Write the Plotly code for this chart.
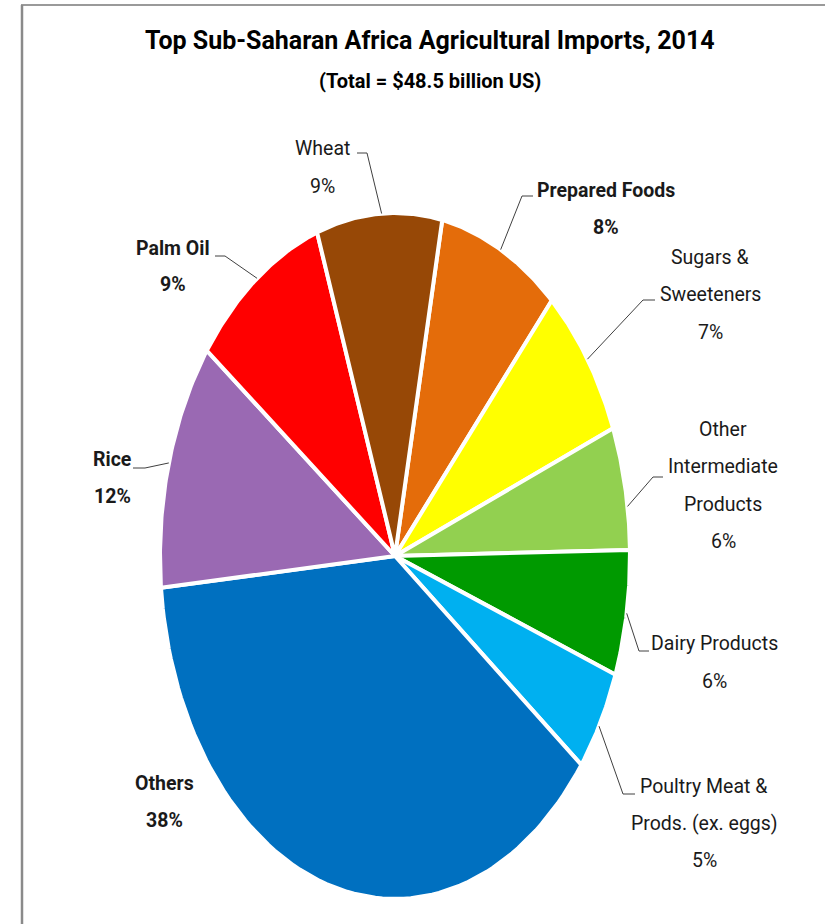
import numpy as np
import plotly.graph_objects as go

# ---- data (clockwise from the top) ----
categories = ["Prepared Foods", "Sugars & Sweeteners", "Other Intermediate Products",
              "Dairy Products", "Poultry Meat & Prods. (ex. eggs)", "Others",
              "Rice", "Palm Oil", "Wheat"]
shares = [8.4, 7.3, 5.8, 5.9, 4.8, 38.1, 11.7, 9.4, 8.6]
colors = ["#E46C0A", "#FFFF00", "#92D050", "#009A00", "#00B0F0", "#0070C0",
          "#9A69B3", "#FF0000", "#974806"]
label_lines = [["Prepared Foods"], ["Sugars &", "Sweeteners"], ["Other", "Intermediate", "Products"],
               ["Dairy Products"], ["Poultry Meat &", "Prods. (ex. eggs)"], ["Others"],
               ["Rice"], ["Palm Oil"], ["Wheat"]]
bold = [True, False, False, False, False, True, True, True, False]

# ---- layout (pixel space) ----
W, H = 825, 924
cx, cy, rx, ry = 395, 556, 235, 343
start_deg = 11.6
label_pos = {  # center of first text line, line spacing
    "Prepared Foods": (606, 190, 37),
    "Sugars & Sweeteners": (710, 257, 37.5),
    "Other Intermediate Products": (723, 429, 37.5),
    "Dairy Products": (714, 643, 38),
    "Poultry Meat & Prods. (ex. eggs)": (704, 786, 37),
    "Others": (164, 783, 37),
    "Rice": (112, 459, 37),
    "Palm Oil": (173, 248, 36),
    "Wheat": (322, 148, 38),
}
leaders = {
    "Prepared Foods": [(533, 196), (522, 196)],
    "Sugars & Sweeteners": [(655, 300), (643, 300)],
    "Other Intermediate Products": [(663, 477), (653, 477)],
    "Dairy Products": [(649, 651), (639, 651)],
    "Poultry Meat & Prods. (ex. eggs)": [(635, 794), (623, 794)],
    "Rice": [(133, 468), (145, 468)],
    "Palm Oil": [(215, 256), (225, 256)],
    "Wheat": [(357, 153), (367, 153)],
}
# where each leader line touches the pie (angle fraction inside slice)
leader_frac = {"Prepared Foods": 0.5, "Sugars & Sweeteners": 0.5,
               "Other Intermediate Products": 0.65, "Dairy Products": 0.5,
               "Poultry Meat & Prods. (ex. eggs)": 0.55, "Rice": 0.5,
               "Palm Oil": 0.51, "Wheat": 0.52}

FONT = "Roboto, sans-serif"

def pt(deg, k=1.0):
    t = np.radians(deg)
    return cx + k * rx * np.sin(t), cy - k * ry * np.cos(t)

fig = go.Figure()
total = sum(shares)
ang = start_deg
for cat, v, col in zip(categories, shares, colors):
    span = v / total * 360
    ts = np.linspace(ang, ang + span, 80)
    xs = [cx] + [pt(t)[0] for t in ts] + [cx]
    ys = [cy] + [pt(t)[1] for t in ts] + [cy]
    fig.add_trace(go.Scatter(x=xs, y=ys, mode="lines", fill="toself", fillcolor=col,
                             line=dict(color="white", width=4), hoverinfo="skip",
                             showlegend=False))
    if cat in leaders:
        ex, ey = pt(ang + span * leader_frac[cat], 1.0)
        p = leaders[cat]
        fig.add_trace(go.Scatter(x=[p[0][0], p[1][0], ex], y=[p[0][1], p[1][1], ey],
                                 mode="lines", line=dict(color="#404040", width=1),
                                 hoverinfo="skip", showlegend=False))
    ang += span

annotations = []
for cat, lines, v, b in zip(categories, label_lines, shares, bold):
    x0, y0, dy = label_pos[cat]
    all_lines = lines + [f"{round(v)}%"]
    for i, ln in enumerate(all_lines):
        txt = f"<b>{ln}</b>" if b else ln
        annotations.append(dict(x=x0, y=y0 + i * dy, xref="x", yref="y", text=txt,
                                showarrow=False, xanchor="center", yanchor="middle",
                                font=dict(family=FONT, size=19.5, color="#1a1a1a")))

annotations.append(dict(x=430, y=40, xref="x", yref="y",
                        text="<b>Top Sub-Saharan Africa Agricultural Imports, 2014</b>",
                        showarrow=False, font=dict(family=FONT, size=25, color="black")))
annotations.append(dict(x=430, y=81, xref="x", yref="y",
                        text="<b>(Total = $48.5 billion US)</b>",
                        showarrow=False, font=dict(family=FONT, size=20, color="black")))

fig.update_layout(
    width=W, height=H, margin=dict(l=0, r=0, t=0, b=0),
    paper_bgcolor="white", plot_bgcolor="white",
    xaxis=dict(range=[0, W], visible=False, fixedrange=True),
    yaxis=dict(range=[H, 0], visible=False, fixedrange=True),
    annotations=annotations,
    shapes=[
        dict(type="line", xref="x", yref="y", x0=21, y0=5, x1=W, y1=5,
             line=dict(color="#9a9a9a", width=2)),
        dict(type="line", xref="x", yref="y", x0=22, y0=5, x1=22, y1=H,
             line=dict(color="#8a8a8a", width=2.5)),
    ],
)
fig.write_html("out.html")
